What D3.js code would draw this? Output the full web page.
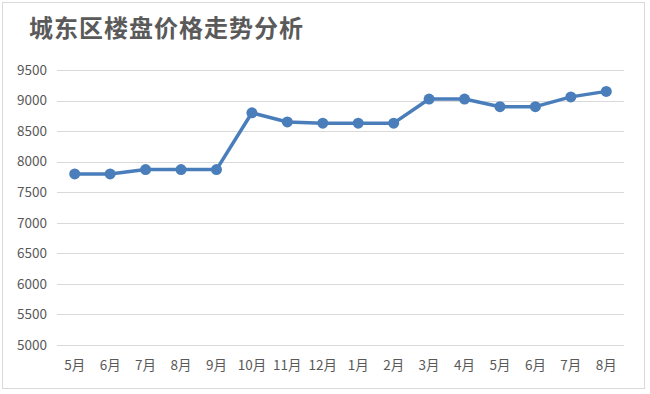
<!DOCTYPE html>
<html>
<head>
<meta charset="utf-8">
<script src="https://cdn.jsdelivr.net/npm/d3@7"></script>
<style>
  body { margin: 0; background: #fff; }
  text { font-family: "Noto Sans CJK SC", "Noto Sans", sans-serif; }
</style>
</head>
<body>
<script>
// data
var months = ["5月", "6月", "7月", "8月", "9月", "10月", "11月", "12月", "1月", "2月", "3月", "4月", "5月", "6月", "7月", "8月"];
var prices = [7800, 7800, 7870, 7870, 7870, 8800, 8650, 8630, 8630, 8630, 9025, 9025, 8900, 8900, 9060, 9150];
var yTicks = [5000, 5500, 6000, 6500, 7000, 7500, 8000, 8500, 9000, 9500];
var title = "城东区楼盘价格走势分析";

var width = 650;
var height = 394;

var margin = { top: 70, bottom: 49, left: 57, right: 24 };

var svg = d3.select("body")
    .append("svg")
    .attr("width", width)
    .attr("height", height);

// frame
svg.append("rect")
    .attr("x", 2.5).attr("y", 2.5)
    .attr("width", 642).attr("height", 386)
    .attr("fill", "#fff")
    .attr("stroke", "#d9d9d9");

svg.append("text")
    .attr("x", 29)
    .attr("y", 37)
    .attr("font-size", 24)
    .attr("font-weight", "bold")
    .attr("letter-spacing", 1)
    .attr("fill", "#5a5a5a")
    .text(title);

var x = d3.scaleBand()
    .domain(d3.range(months.length))
    .range([margin.left, width - margin.right - 2]);

var y = d3.scaleLinear()
    .domain([5000, 9500])
    .range([height - margin.bottom, margin.top]);

// gridlines
svg.append("g")
    .selectAll("line")
    .data(yTicks)
    .enter().append("line")
    .attr("x1", margin.left)
    .attr("x2", width - margin.right - 2)
    .attr("y1", function(d) { return Math.round(y(d)) + 0.5; })
    .attr("y2", function(d) { return Math.round(y(d)) + 0.5; })
    .attr("stroke", "#d9d9d9")
    .attr("stroke-width", 1);

// y labels
svg.append("g")
    .selectAll("text")
    .data(yTicks)
    .enter().append("text")
    .attr("x", 47)
    .attr("y", function(d) { return y(d); })
    .attr("dy", "0.35em")
    .attr("text-anchor", "end")
    .attr("font-size", 13.5)
    .attr("fill", "#595959")
    .text(function(d) { return d; });

// x labels
svg.append("g")
    .selectAll("text")
    .data(months)
    .enter().append("text")
    .attr("x", function(d, i) { return x(i) + x.bandwidth() / 2; })
    .attr("y", 370)
    .attr("text-anchor", "middle")
    .attr("font-size", 13.5)
    .attr("fill", "#595959")
    .text(function(d) { return d; });

var line = d3.line()
    .x(function(d, i) { return x(i) + x.bandwidth() / 2; })
    .y(function(d) { return y(d); });

svg.append("path")
    .datum(prices)
    .attr("fill", "none")
    .attr("stroke", "#4a7ebb")
    .attr("stroke-width", 3.5)
    .attr("stroke-linejoin", "round")
    .attr("d", line);

svg.append("g")
    .selectAll("circle")
    .data(prices)
    .enter().append("circle")
    .attr("cx", function(d, i) { return x(i) + x.bandwidth() / 2; })
    .attr("cy", function(d) { return y(d); })
    .attr("r", 5.5)
    .attr("fill", "#4a7ebb");
</script>
</body>
</html>
